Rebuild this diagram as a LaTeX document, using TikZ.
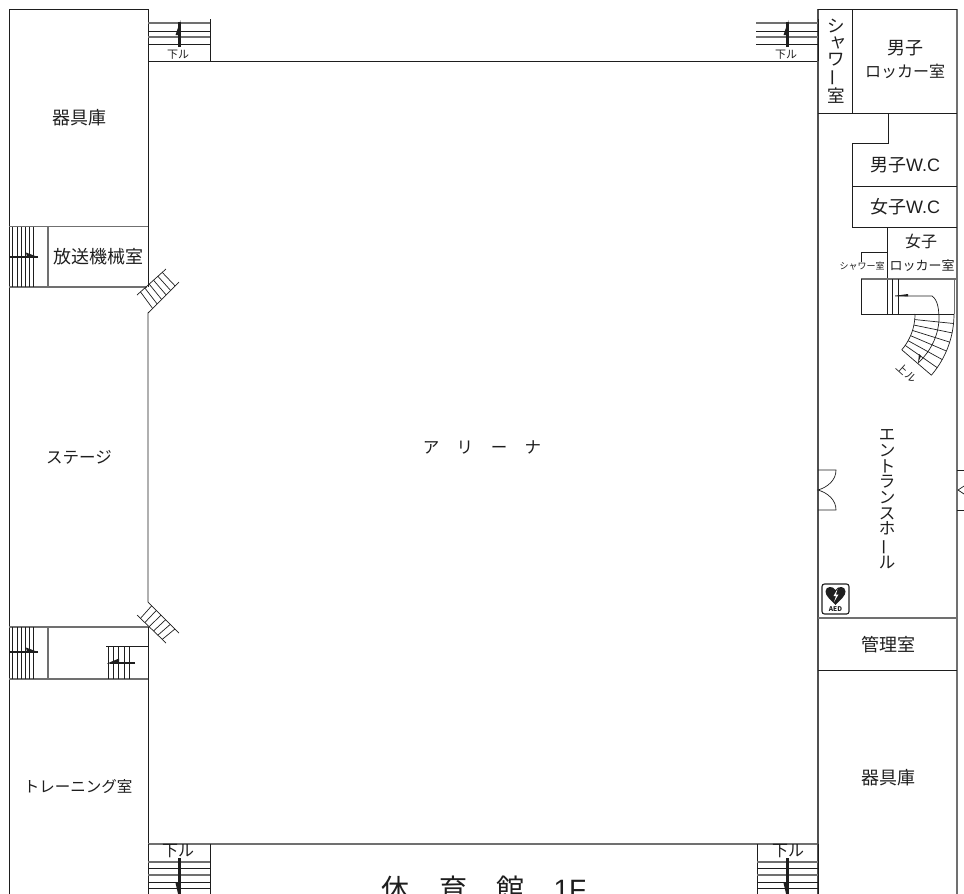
\documentclass[tikz,border=0pt]{standalone}
\usepackage{fontspec}
\usetikzlibrary{calc}
\setmainfont{Noto Sans CJK JP}
\newfontfamily\latinface{Liberation Sans}
\definecolor{ink}{HTML}{1E1E1E}
\definecolor{wallgrey}{HTML}{505050}
\definecolor{softgrey}{HTML}{707070}
\newcommand{\vbar}{\rotatebox[origin=c]{90}{ー}}
\newcommand{\vrow}[1]{\makebox[18pt][c]{#1}\\}
\tikzset{
  wall/.style={draw=ink,line width=0.85pt},
  heavy/.style={draw=wallgrey,line width=1.6pt},
  soft/.style={draw=softgrey,line width=1.05pt},
  thin/.style={draw=ink,line width=0.7pt},
  tread/.style={draw=ink,line width=0.8pt},
  arrowshaft/.style={draw=ink,line width=2.6pt},
  room/.style={font=\fontsize{18}{20}\selectfont,text=ink,inner sep=0pt},
  roomsm/.style={font=\fontsize{16}{18}\selectfont,text=ink,inner sep=0pt},
  vstack/.style={align=center,text=ink,inner sep=0pt},
}
\begin{document}
\begin{tikzpicture}[x=1pt,y=-1pt]
\useasboundingbox (0,0) rectangle (964,894);
% outer walls
\draw[wall] (148,9) -- (9,9) -- (9,894);
\draw[wall] (148,9) -- (148,61) -- (818,61);
\draw[wall] (148,61) -- (148,287);
\draw[soft] (9,226.5) -- (148,226.5);
\draw[soft] (48,226.5) -- (48,287);
\draw[soft] (9,287) -- (147,287);
\draw[wall] (149,312) -- (148,313) -- (148,602);
\draw[soft] (9,627) -- (148,627);
\draw[wall] (148,627) -- (148,894);
\draw[soft] (48,627) -- (48,679);
\draw[soft] (9,679) -- (148,679);
\draw[soft] (148,844) -- (818,844);
\draw[heavy] (818,9) -- (818,894);
\draw[soft] (957,9) -- (957,894);
\draw[wall] (818,9) -- (957,9);
% upper right rooms
\draw[wall] (852,9) -- (852,113);
\draw[wall] (818,113) -- (957,113);
\draw[wall] (888,113) -- (888,143) -- (852,143) -- (852,227);
\draw[wall] (852,186) -- (957,186);
\draw[wall] (852,227) -- (957,227);
\draw[wall] (887,227) -- (887,314);
\draw[wall] (861,262) -- (861,252) -- (887,252);
\draw[soft] (861,279) -- (957,279);
\draw[wall] (861,279) -- (861,314) -- (954,314);
\draw[thin] (892.5,279) -- (892.5,314);
\draw[thin] (898,279) -- (898,314);
\draw[soft] (954.5,279) -- (954.5,314);
% curved stair
\draw[thin] plot[domain=0:40.6,samples=24] ({860+55*cos(\x)},{314+55*sin(\x)});
\draw[thin] plot[domain=0:40.6,samples=24] ({860+94*cos(\x)},{314+94*sin(\x)});
\foreach \a in {5.8,11.6,17.4,23.2,29,34.8,40.6}
  \draw[thin] ({860+55*cos(\a)},{314+55*sin(\a)}) -- ({860+94*cos(\a)},{314+94*sin(\a)});
\draw[thin] (895,296) -- (932,296) .. controls (938,300) and (939,310) .. (939,320)
  .. controls (938,337) and (930,352) .. (918,363);
\fill[ink] (895,295.8) -- (908,294) -- (908,296.4) -- cycle;
\fill[ink] (918,363) -- (919,354) -- (921,356) -- cycle;
\node[rotate=-42,inner sep=0pt,text=ink,font=\fontsize{11}{12}\selectfont] (up) at (907,373) {上ル};
% lower right
\draw[soft] (818,618) -- (957,618);
\draw[wall] (818,670) -- (957,670);
% doors
\draw[thin] (818,470) -- (836,470) .. controls (836,480) and (828,487) .. (818,490)
  .. controls (828,493) and (836,500) .. (836,510) -- (818,510);
\draw[thin] (957,470) -- (964,470);
\draw[thin] (957,510) -- (964,510);
\draw[thin] (964,486) -- (958,490) -- (964,494);
% left stairs
\foreach \x in {12,17,21,25,29,33} {
  \draw[tread] (\x,226.5) -- (\x,287);
  \draw[tread] (\x,627) -- (\x,679);
}
\foreach \y in {257,652} {
  \draw[arrowshaft] (10,\y) -- (38,\y);
  \fill[ink] (38,\y) -- (26,\y-4.5) -- (27,\y) -- cycle;
}
\draw[thin] (106,646) -- (148,646);
\foreach \x in {108,113,118,124,129} \draw[tread] (\x,646) -- (\x,679);
\draw[arrowshaft] (135,663) -- (110,663);
\fill[ink] (107,663.5) -- (119,658.5) -- (119,663.5) -- cycle;
% diagonal stairs
\draw[thin] (137,295) -- (166,269);
\draw[thin] (149,312) -- (179,282);
\foreach \t in {0.12,0.27,0.42,0.57,0.72,0.87}
  \draw[thin] ($(137,295)!\t!(166,269)$) -- ($(149,312)!\t!(179,282)$);
\draw[thin] (137,615) -- (166,643);
\draw[thin] (148,602) -- (179,633);
\foreach \t in {0.12,0.27,0.42,0.57,0.72,0.87}
  \draw[thin] ($(137,615)!\t!(166,643)$) -- ($(148,602)!\t!(179,633)$);
% top stairs
\foreach \xa/\xb/\xm in {148/210/179.5,756/818/787.5} {
  \draw[wall] (\xb,19) -- (\xb,61);
  \draw[soft] (\xa,23) -- (\xb,23);
  \draw[tread] (\xa,31) -- (\xb,31);
  \draw[soft] (\xa,37) -- (\xb,37);
  \draw[tread] (\xa,44) -- (\xb,44);
  \draw[arrowshaft] (\xm,47) -- (\xm,22);
  \fill[ink] (\xm+1,20) -- (\xm-4,35) -- (\xm,35) -- cycle;
}
\node[inner sep=0pt,text=ink,font=\fontsize{11}{12}\selectfont] (dl1) at (178,54.5) {下ル};
\node[inner sep=0pt,text=ink,font=\fontsize{11}{12}\selectfont] (dl2) at (786,54.5) {下ル};
% bottom stairs
\foreach \xa/\xb/\xm in {148/210/179.5,757/818/787.5} {
  \draw[wall] (\xb,844) -- (\xb,894);
  \draw[wall] (\xa,844) -- (\xa,894);
  \draw[soft] (\xa,862) -- (\xb,862);
  \draw[tread] (\xa,868) -- (\xb,868);
  \draw[soft] (\xa,875) -- (\xb,875);
  \draw[tread] (\xa,882) -- (\xb,882);
  \draw[tread] (\xa,888) -- (\xb,888);
  \draw[arrowshaft] (\xm,858) -- (\xm,896);
  \fill[ink] (\xm,900) -- (\xm-4,883) -- (\xm,883) -- cycle;
}
\node[inner sep=0pt,text=ink,font=\fontsize{16}{18}\selectfont] (dl3) at (178,851) {下ル};
\node[inner sep=0pt,text=ink,font=\fontsize{16}{18}\selectfont] (dl4) at (788,851) {下ル};
% labels
\node[room] (kigu1) at (79,118) {器具庫};
\node[room] (hoso) at (98,257) {放送機械室};
\node[room,font=\fontsize{16.5}{18}\selectfont] (stage) at (79,457) {ステージ};
\node[room,font=\fontsize{15.5}{18}\selectfont] (train) at (78,787) {トレーニング室};
\node[room,font=\fontsize{16.5}{18}\selectfont] (arena) at (482,447) {ア\hspace{17.5pt}リ\hspace{17.5pt}ー\hspace{17.5pt}ナ};
\node[room] (m1) at (905,48) {男子};
\node[roomsm] (m2) at (905,71) {ロッカー室};
\node[room] (mwc) at (905,165) {男子{\latinface W.C}};
\node[room] (wwc) at (905,207) {女子{\latinface W.C}};
\node[roomsm] (w1) at (921,241) {女子};
\node[room,font=\fontsize{13}{15}\selectfont] (w2) at (922,266) {ロッカー室};
\node[inner sep=0pt,text=ink,font=\fontsize{9}{10}\selectfont] (wsh) at (862,266) {シャワー室};
\node[room] (kanri) at (888,645) {管理室};
\node[room] (kigu2) at (888,778) {器具庫};
\node[vstack,font=\fontsize{17.5}{16.3}\selectfont] (msh) at (836,69) {\vrow{シ}\vrow{\hspace{5pt}\raisebox{2pt}{ャ}}\vrow{ワ}\vrow{\vbar}\vrow{室}};
\node[vstack,font=\fontsize{16.5}{15.7}\selectfont] (ent) at (887,507) {\vrow{エ}\vrow{ン}\vrow{ト}\vrow{ラ}\vrow{ン}\vrow{ス}\vrow{ホ}\vrow{\vbar}\vrow{ル}};
\node[room,font=\fontsize{28}{30}\selectfont] (title) at (484,889) {休\hspace{29.5pt}育\hspace{29.5pt}館\hspace{29pt}{\latinface 1F}};
% AED sign
\draw[draw=ink,line width=1.1pt,rounded corners=2.5pt] (822,584) rectangle (849,614);
\fill[ink] (835.5,605) .. controls (830,599) and (825.5,596) .. (825.5,591.5)
  .. controls (825.5,586) and (833,585.5) .. (835.5,590)
  .. controls (838,585.5) and (845.5,586) .. (845.5,591.5)
  .. controls (845.5,596) and (841,599) .. (835.5,605) -- cycle;
\fill[white] (837.5,589) -- (833.5,596) -- (836,596) -- (834,602) -- (838.5,594.5) -- (836,594.5) -- cycle;
\node[inner sep=0pt,text=ink,font=\fontsize{6.5}{7}\selectfont\bfseries] (aed) at (835.5,609.5) {AED};
\end{tikzpicture}
\end{document}
